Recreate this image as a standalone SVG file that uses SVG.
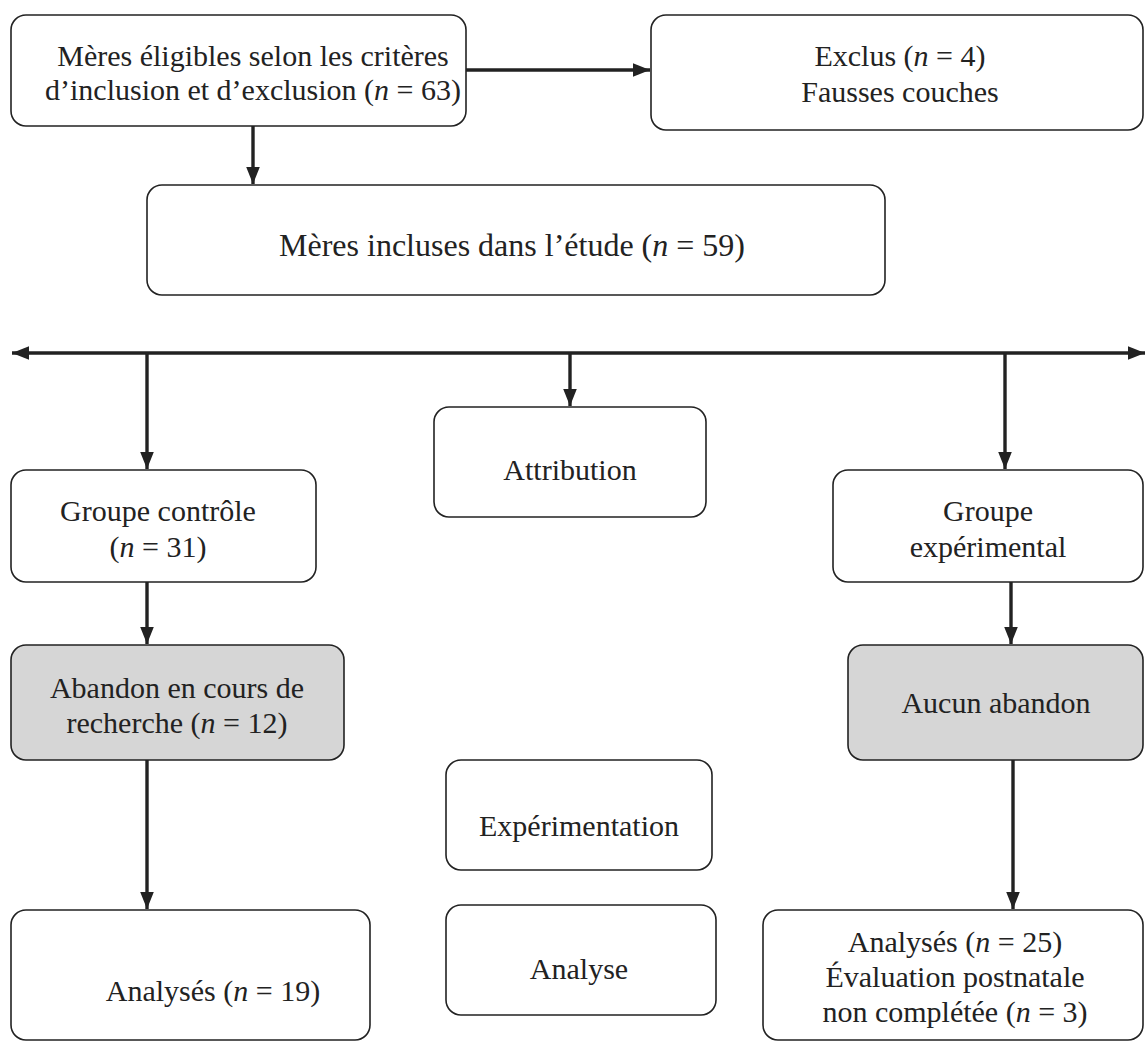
<svg xmlns="http://www.w3.org/2000/svg" width="1145" height="1048" viewBox="0 0 1145 1048">
<style>
.box{fill:#fff;stroke:#222;stroke-width:1.6}
.gray{fill:#d6d6d6;stroke:#222;stroke-width:1.6}
.t{font-family:"Liberation Serif","Times New Roman",serif;font-size:30px;fill:#222;text-anchor:middle}
.c{stroke:#222;stroke-width:3.4;fill:none}
</style>
<defs>
<marker id="ah" viewBox="0 0 10 10" refX="10" refY="5" markerWidth="5" markerHeight="5" markerUnits="strokeWidth" orient="auto-start-reverse">
<path d="M0,1 L10,5 L0,9 z" fill="#222"/>
</marker>
</defs>
<rect width="1145" height="1048" fill="#fff"/>
<g id="connectors">
<line class="c" x1="466" y1="70" x2="650" y2="70" marker-end="url(#ah)"/>
<line class="c" x1="253" y1="126" x2="253" y2="184" marker-end="url(#ah)"/>
<line class="c" x1="12" y1="353" x2="1145" y2="353" marker-start="url(#ah)" marker-end="url(#ah)"/>
<line class="c" x1="147" y1="353" x2="147" y2="469" marker-end="url(#ah)"/>
<line class="c" x1="570" y1="353" x2="570" y2="406" marker-end="url(#ah)"/>
<line class="c" x1="1005" y1="353" x2="1005" y2="469" marker-end="url(#ah)"/>
<line class="c" x1="147" y1="582" x2="147" y2="644" marker-end="url(#ah)"/>
<line class="c" x1="147" y1="760" x2="147" y2="909" marker-end="url(#ah)"/>
<line class="c" x1="1011" y1="582" x2="1011" y2="644" marker-end="url(#ah)"/>
<line class="c" x1="1013" y1="760" x2="1013" y2="909" marker-end="url(#ah)"/>
</g>
<g id="n1"><rect class="box" x="11" y="15" width="455" height="111" rx="15"/>
<text class="t" x="253" y="66">Mères éligibles selon les critères</text>
<text class="t" x="253" y="100">d’inclusion et d’exclusion (<tspan font-style="italic">n</tspan> = 63)</text></g>
<g id="n2"><rect class="box" x="651" y="15" width="492" height="115" rx="15"/>
<text class="t" x="900" y="66">Exclus (<tspan font-style="italic">n</tspan> = 4)</text>
<text class="t" x="900" y="102">Fausses couches</text></g>
<g id="n3"><rect class="box" x="147" y="185" width="738" height="110" rx="15"/>
<text class="t" x="512" y="256" style="font-size:32px">Mères incluses dans l’étude (<tspan font-style="italic">n</tspan> = 59)</text></g>
<g id="n4"><rect class="box" x="434" y="407" width="272" height="110" rx="15"/>
<text class="t" x="570" y="480">Attribution</text></g>
<g id="n5"><rect class="box" x="11" y="470" width="305" height="112" rx="15"/>
<text class="t" x="158" y="521">Groupe contrôle</text>
<text class="t" x="158" y="557">(<tspan font-style="italic">n</tspan> = 31)</text></g>
<g id="n6"><rect class="box" x="833" y="470" width="310" height="112" rx="15"/>
<text class="t" x="988" y="521">Groupe</text>
<text class="t" x="988" y="557">expérimental</text></g>
<g id="n7"><rect class="gray" x="11" y="645" width="333" height="115" rx="15"/>
<text class="t" x="177" y="698">Abandon en cours de</text>
<text class="t" x="177" y="733">recherche (<tspan font-style="italic">n</tspan> = 12)</text></g>
<g id="n8"><rect class="gray" x="848" y="645" width="295" height="115" rx="15"/>
<text class="t" x="996" y="713">Aucun abandon</text></g>
<g id="n9"><rect class="box" x="446" y="760" width="266" height="110" rx="15"/>
<text class="t" x="579" y="836">Expérimentation</text></g>
<g id="n10"><rect class="box" x="446" y="905" width="270" height="110" rx="15"/>
<text class="t" x="579" y="979">Analyse</text></g>
<g id="n11"><rect class="box" x="11" y="910" width="359" height="130" rx="15"/>
<text class="t" x="213" y="1001">Analysés (<tspan font-style="italic">n</tspan> = 19)</text></g>
<g id="n12"><rect class="box" x="763" y="910" width="380" height="130" rx="15"/>
<text class="t" x="955" y="952">Analysés (<tspan font-style="italic">n</tspan> = 25)</text>
<text class="t" x="955" y="987">Évaluation postnatale</text>
<text class="t" x="955" y="1022">non complétée (<tspan font-style="italic">n</tspan> = 3)</text></g>
</svg>
